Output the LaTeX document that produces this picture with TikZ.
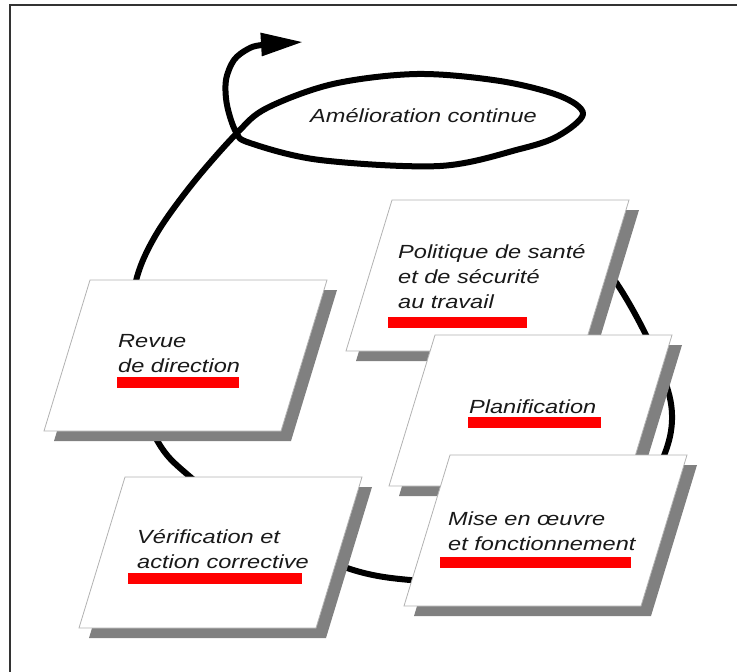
\documentclass[tikz,border=0pt]{standalone}
\usepackage{fontspec}
\usepackage{tikz}
\usetikzlibrary{arrows.meta,calc}
\newfontfamily\cardfont[FakeStretch=1.24]{Liberation Sans}
% one card: shadow, then white parallelogram, top-left corner given
\newcommand{\card}[2]{%
  \fill[cardshadow] ($(#2)+(10,10)$) -- ++(237,0) -- ++(-46,151) -- ++(-237,0) -- cycle;
  \draw[cardedge] (#2) coordinate (#1) -- ++(237,0) -- ++(-46,151) -- ++(-237,0) -- cycle;
}

\begin{document}
\begin{tikzpicture}[
  x=1pt,y=-1pt,
  every node/.style={font=\cardfont\itshape\fontsize{19}{25}\selectfont,text=black!90},
  label/.style={anchor=base west,inner sep=0pt,align=left},
  cardshadow/.style={fill=gray},
  cardedge/.style={draw=gray!60,line width=0.8pt,fill=white},
  bar/.style={fill=red},
  cycleline/.style={line width=6pt,line join=round,-{Triangle[length=42pt,width=22pt]}}
]
  \useasboundingbox (0,0) rectangle (737,672);
  \draw[line width=1.5pt,black!80] (10,672) -- (10,5) -- (737,5);

  % the cycle, ending in the improvement loop
  \draw[cycleline] plot[smooth,tension=0.55] coordinates {
    (575,236) (613,278) (645,333) (667,387) (672,420) (665,453) (640,505)
    (590,555) (500,582) (410,580) (347,568) (260,530) (188,475) (158,442)
    (132,380) (130,330) (137,277) (157,233) (193,183) (237,133) (267,108)
    (333,84) (417,74) (500,81) (560,96) (583,114) (558,136)
    (520,149) (440,166) (320,160) (250,143) (236,132) (227,105)
    (226,80) (234,60) (248,49) (262,45) (303,42)};
  \node[label] (amelioration) at (310,122) {Amélioration continue};

  \card{revuecard}{90,280}
  \node[label] (revue) at (118,372) {Revue\\de direction};
  \fill[bar] (117,377) rectangle (239,388);

  \card{verifcard}{125,477}
  \node[label] (verif) at (137,568) {Vérification et\\action corrective};
  \fill[bar] (128,573) rectangle (302,584);

  \card{politiquecard}{392,200}
  \node[label] (politique) at (398,308) {Politique de santé\\et de sécurité\\au travail};
  \fill[bar] (388,317) rectangle (527,328);

  \card{planifcard}{435,335}
  \node[label] (planif) at (469,413) {Planification};
  \fill[bar] (468,417) rectangle (601,428);

  \card{misecard}{450,455}
  \node[label] (mise) at (448,550) {Mise en œuvre\\et fonctionnement};
  \fill[bar] (440,557) rectangle (631,568);
\end{tikzpicture}
\end{document}
